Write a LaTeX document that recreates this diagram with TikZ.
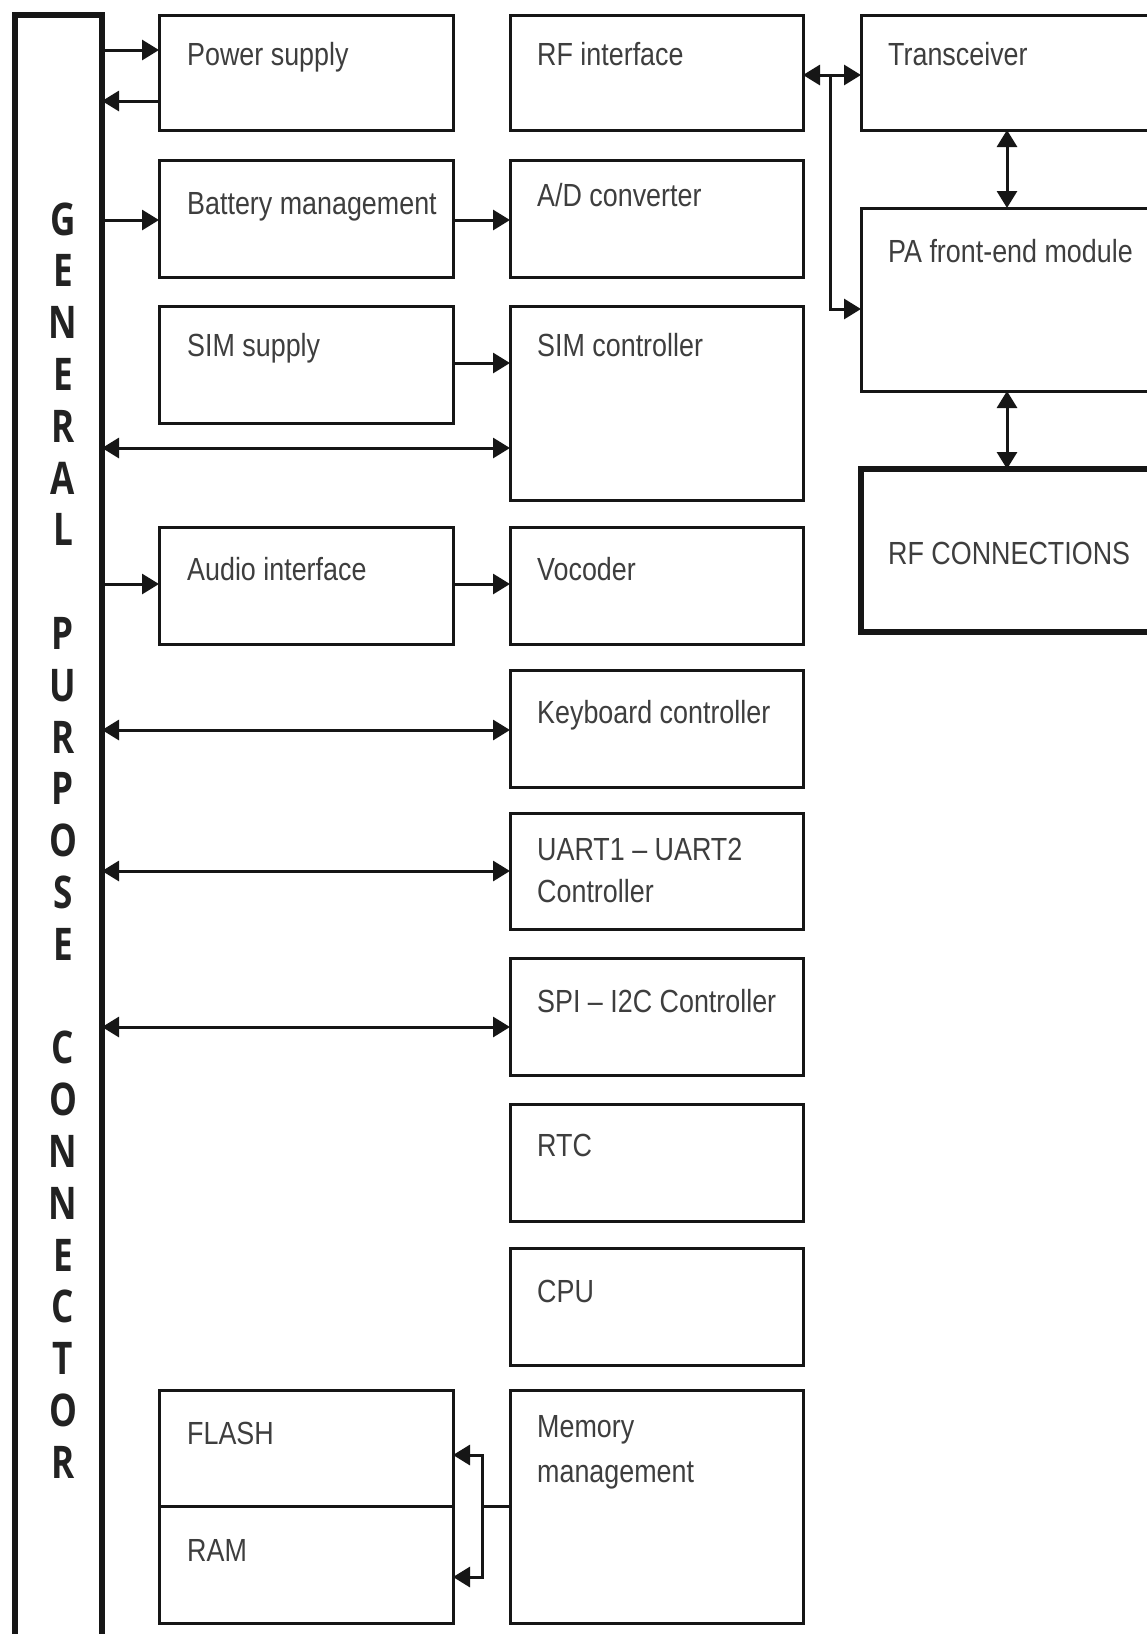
\documentclass[tikz,border=0pt]{standalone}
\usepackage{fontspec}
\setmainfont{Liberation Sans}[FakeStretch=0.84]
\newfontfamily\connfont{Open Sans}[FakeStretch=0.78]
\usetikzlibrary{arrows.meta}
\definecolor{txt}{RGB}{62,62,62}
\definecolor{ln}{RGB}{22,22,22}
\definecolor{connc}{RGB}{34,34,34}
\newcommand\mkbox[6][]{\node[box,#1,minimum width={(#5-#3)*1pt},minimum height={(#6-#4)*1pt}] (#2) at (#3,#4) {};}
\tikzset{
  box/.style={draw=ln, line width=3pt, rectangle, inner sep=0pt, outer sep=0pt, anchor=north west},
  thickbox/.style={line width=6pt},
  lbl/.style={anchor=base west, inner sep=0pt, text=txt, font=\fontsize{32}{41}\selectfont},
  conn/.style={anchor=base, inner sep=0pt, text=connc, font=\connfont\bfseries\fontsize{45}{45}\selectfont},
  line/.style={draw=ln, line width=3pt},
  arr/.style={line, -{Triangle[length=17pt,width=20pt]}},
  darr/.style={line, {Triangle[length=17pt,width=20pt]}-{Triangle[length=17pt,width=20pt]}},
}
\begin{document}
\begin{tikzpicture}[x=1pt,y=-1pt]
\useasboundingbox (0,0) rectangle (1147,1634);
\fill[white] (0,0) rectangle (1147,1634);
\clip (0,0) rectangle (1147,1634);

% general purpose connector
\mkbox[thickbox]{gpc}{15}{15}{102}{1660}
\foreach \ch/\k in {G/0,E/1,N/2,E/3,R/4,A/5,L/6,P/8,U/9,R/10,P/11,O/12,S/13,E/14,C/16,O/17,N/18,N/19,E/20,C/21,T/22,O/23,R/24}
  \node[conn] (L\k) at (63,{235+51.8*\k}) {\ch};

% left column
\mkbox{ps}{159}{15}{453}{130}
\mkbox{bat}{159}{160}{453}{277}
\mkbox{simsup}{159}{306}{453}{423}
\mkbox{aud}{159}{527}{453}{644}
\mkbox{flash}{159}{1390}{453}{1506}
\mkbox{ram}{159}{1506}{453}{1623}

% middle column
\mkbox{rfi}{510}{15}{803}{130}
\mkbox{adc}{510}{160}{803}{277}
\mkbox{simc}{510}{306}{803}{500}
\mkbox{voc}{510}{527}{803}{644}
\mkbox{kbd}{510}{670}{803}{787}
\mkbox{uart}{510}{813}{803}{929}
\mkbox{spi}{510}{958}{803}{1075}
\mkbox{rtc}{510}{1104}{803}{1221}
\mkbox{cpu}{510}{1248}{803}{1365}
\mkbox{mem}{510}{1390}{803}{1623}

% right column
\mkbox{trx}{861}{15}{1200}{130}
\mkbox{pa}{861}{208}{1200}{391}
\mkbox[thickbox]{rfc}{861}{469}{1200}{632}

% labels
\node[lbl] (tps) at (187,65) {Power supply};
\node[lbl] (tbat) at (187,214) {Battery management};
\node[lbl] (tsimsup) at (187,356) {SIM supply};
\node[lbl] (taud) at (187,580) {Audio interface};
\node[lbl] (tflash) at (187,1444) {FLASH};
\node[lbl] (tram) at (187,1561) {RAM};

\node[lbl] (trfi) at (537,65) {RF interface};
\node[lbl] (tadc) at (537,206) {A/D converter};
\node[lbl] (tsimc) at (537,356) {SIM controller};
\node[lbl] (tvoc) at (537,580) {Vocoder};
\node[lbl] (tkbd) at (537,723) {Keyboard controller};
\node[lbl] (tuart1) at (537,860) {UART1 – UART2};
\node[lbl] (tuart2) at (537,902) {Controller};
\node[lbl] (tspi) at (537,1012) {SPI – I2C Controller};
\node[lbl] (trtc) at (537,1156) {RTC};
\node[lbl] (tcpu) at (537,1302) {CPU};
\node[lbl] (tmem1) at (537,1437) {Memory};
\node[lbl] (tmem2) at (537,1482) {management};

\node[lbl] (ttrx) at (888,65) {Transceiver};
\node[lbl] (tpa) at (888,262) {PA front-end module};
\node[lbl] (trfc) at (888,564) {RF CONNECTIONS};

% connectors: left side
\draw[arr] (gpc.east |- 0,50) -- (ps.west |- 0,50);
\draw[arr] (ps.west |- 0,101) -- (gpc.east |- 0,101);
\draw[arr] (gpc.east |- 0,220) -- (bat.west |- 0,220);
\draw[arr] (bat.east |- 0,220) -- (adc.west |- 0,220);
\draw[arr] (simsup.east |- 0,363) -- (simc.west |- 0,363);
\draw[darr] (gpc.east |- 0,448) -- (simc.west |- 0,448);
\draw[arr] (gpc.east |- 0,584) -- (aud.west |- 0,584);
\draw[arr] (aud.east |- 0,584) -- (voc.west |- 0,584);
\draw[darr] (gpc.east |- 0,730) -- (kbd.west |- 0,730);
\draw[darr] (gpc.east |- 0,871) -- (uart.west |- 0,871);
\draw[darr] (gpc.east |- 0,1027) -- (spi.west |- 0,1027);

% RF side
\coordinate (rj) at (830,75);
\draw[darr] (rfi.east |- rj) -- (trx.west |- rj);
\draw[arr] (rj) -- (830,309) -- (pa.west |- 0,309);
\draw[darr] (trx.south -| 1007,0) -- (pa.north -| 1007,0);
\draw[darr] (pa.south -| 1007,0) -- (rfc.north -| 1007,0);

% memory
\coordinate (mj) at (482,1506);
\draw[line] (mem.west |- mj) -- (mj);
\draw[arr] (mj) -- (482,1455) -- (flash.east |- 0,1455);
\draw[arr] (mj) -- (482,1577) -- (ram.east |- 0,1577);
\end{tikzpicture}
\end{document}
